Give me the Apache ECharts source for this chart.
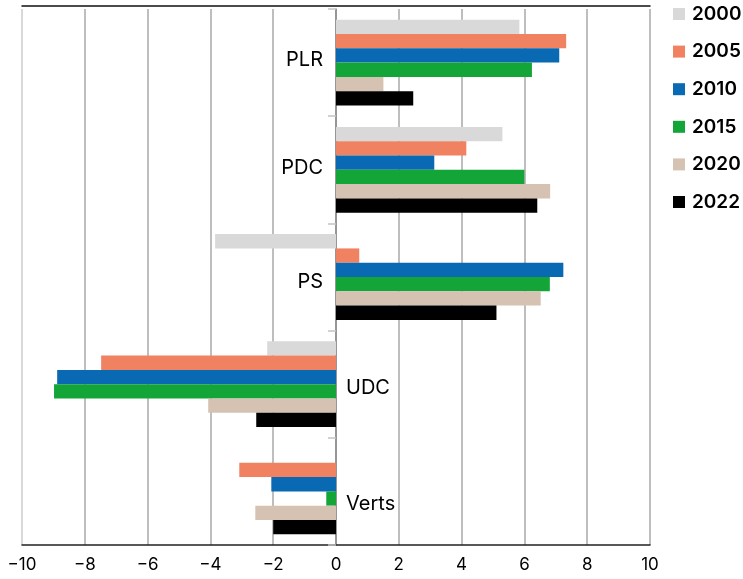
<!DOCTYPE html>
<html>
<head>
<meta charset="utf-8">
<script src="https://cdn.jsdelivr.net/npm/echarts@6/dist/echarts.min.js"></script>
<style>
html,body{margin:0;padding:0;background:#fff;}
#chart{width:743px;height:579px;}
</style>
</head>
<body>
<div id="chart"></div>
<script>
const categories = ['PLR', 'PDC', 'PS', 'UDC', 'Verts'];
const years = ['2000', '2005', '2010', '2015', '2020', '2022'];
const v2000 = [5.84, 5.30, -3.85, -2.19, null];
const v2005 = [7.33, 4.15, 0.74, -7.48, -3.08];
const v2010 = [7.11, 3.13, 7.24, -8.88, -2.06];
const v2015 = [6.24, 6.00, 6.81, -8.98, -0.31];
const v2020 = [1.51, 6.82, 6.52, -4.07, -2.57];
const v2022 = [2.46, 6.41, 5.11, -2.54, -2.00];
const xTicks = [-10, -8, -6, -4, -2, 0, 2, 4, 6, 8, 10];
const labelSide = ['left', 'left', 'left', 'right', 'right'];

const seriesValues = [v2000, v2005, v2010, v2015, v2020, v2022];
const colors = ['#d9d9d9', '#f08262', '#0a69b3', '#14a538', '#d5c2b2', '#000000'];
const labelOffsets = [[0, -3], [0, -2], [0, 5], [0, 4], [0, 13]];
const FONT = 'Inter, "Noto Sans", sans-serif';

const chart = echarts.init(document.getElementById('chart'), null, {renderer: 'canvas'});

const barSeries = years.map((y, i) => ({
  name: y,
  type: 'bar',
  data: seriesValues[i],
  itemStyle: {color: colors[i]},
  barGap: '0%',
  barCategoryGap: '20%',
  xAxisIndex: 0,
  yAxisIndex: 0,
  animation: false
}));

const labelSeries = {
  type: 'scatter',
  name: 'labels',
  symbolSize: 0,
  silent: true,
  animation: false,
  itemStyle: {opacity: 1},
  data: categories.map((c, i) => ({
    value: [0, c],
    label: {
      show: true,
      position: labelSide[i],
      distance: labelSide[i] === 'left' ? 13 : 10,
      offset: labelOffsets[i],
      formatter: c,
      color: '#000',
      opacity: 1,
      fontSize: 20,
      fontFamily: FONT
    }
  })),
  z: 5
};

chart.setOption({
  animation: false,
  grid: {left: 22, right: 93, top: 9, bottom: 34, containLabel: false},
  legend: {
    data: years,
    orient: 'vertical',
    left: 668,
    top: -1,
    itemWidth: 12,
    itemHeight: 12,
    itemGap: 17.6,
    icon: 'rect',
    textStyle: {fontSize: 19, fontWeight: 600, color: '#000', fontFamily: FONT, lineHeight: 20, padding: [0, 0, 0, 2]},
    selectedMode: false
  },
  xAxis: [{
    type: 'value',
    min: -10,
    max: 10,
    interval: 2,
    position: 'bottom',
    axisLine: {show: true, onZero: false, lineStyle: {color: '#222', width: 1.5}},
    axisTick: {show: false},
    axisLabel: {
      fontSize: 17,
      color: '#000',
      fontFamily: FONT,
      margin: 11,
      formatter: v => (xTicks.indexOf(v) >= 0 ? String(v).replace('-', '\u2212') : '')
    },
    splitLine: {show: true, lineStyle: {color: ['#cccccc', '#a8a8a8', '#a8a8a8', '#a8a8a8', '#a8a8a8', '#a8a8a8', '#a8a8a8', '#a8a8a8', '#a8a8a8', '#a8a8a8', '#a8a8a8'], width: 1.5}}
  }, {
    type: 'value',
    min: -10,
    max: 10,
    interval: 2,
    position: 'top',
    offset: 3,
    axisLine: {show: true, onZero: false, lineStyle: {color: '#111', width: 1.5}},
    axisTick: {show: false},
    axisLabel: {show: false},
    splitLine: {show: false}
  }],
  yAxis: [{
    type: 'category',
    data: categories,
    inverse: true,
    axisLine: {show: true, onZero: true, lineStyle: {color: '#8a8a8a', width: 1.5}},
    axisTick: {show: true, length: 8, lineStyle: {color: '#c4c4c4', width: 1.5}},
    axisLabel: {show: false},
    splitLine: {show: false}
  }],
  series: barSeries.concat([labelSeries])
});
</script>
</body>
</html>
